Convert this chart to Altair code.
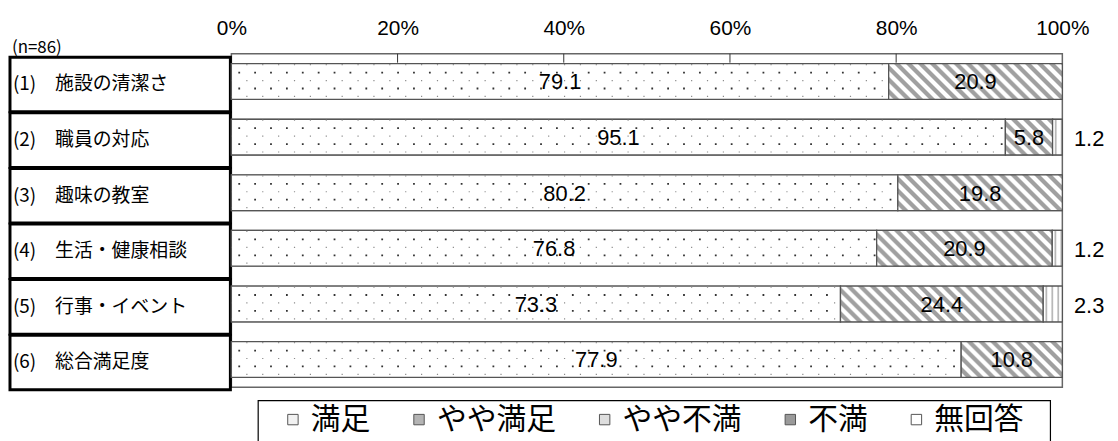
import altair as alt
import pandas as pd

# ---------------- data ----------------
items = ["(1)　施設の清潔さ", "(2)　職員の対応", "(3)　趣味の教室",
         "(4)　生活・健康相談", "(5)　行事・イベント", "(6)　総合満足度"]
cats = ["満足", "やや満足", "やや不満", "不満", "無回答"]
satisfied = [79.1, 95.1, 80.2, 76.8, 73.3, 77.9]
somewhat_satisfied = [20.9, 5.8, 19.8, 20.9, 24.4, 10.8]
somewhat_dissatisfied = [None, 1.2, None, 1.2, 2.3, None]
tick_values = [0, 0.2, 0.4, 0.6, 0.8, 1.0]
inner_ticks = [0.2, 0.4, 0.6, 0.8]
n_label = ["(n=86)"]

rows = []
for i, it in enumerate(items):
    for ci, series in enumerate([satisfied, somewhat_satisfied, somewhat_dissatisfied]):
        v = series[i]
        if v is not None:
            rows.append({"item": it, "cat": cats[ci], "order": ci, "v": v})
df = pd.DataFrame(rows)

# ---------------- styling ----------------
PW, PH, BAR = 837, 336, 36
HALF = PH / len(items) / 2  # offsets with yOffset are measured from band start
NUM_FONT = "Liberation Sans"
JP_FONT = "Noto Sans CJK JP"

yenc = alt.Y("item:N", sort=items,
             scale=alt.Scale(type="band", paddingInner=0, paddingOuter=0),
             axis=None)
xscale = alt.Scale(domain=[0, 1], nice=False, zero=True)
xaxis = alt.Axis(orient="top", values=tick_values, format="%", title=None,
                 ticks=False, domain=False, grid=False, labelFontSize=21,
                 labelFont=NUM_FONT, labelColor="black", labelPadding=15,
                 labelFlush=False)


def hatch_expr():
    P, L = 12.0, 300.0
    n = int(L / P)
    stops = []
    for k in range(n):
        stops += [(k / n, "#ffffff"), ((k + 0.35) / n, "#ffffff"),
                  ((k + 0.5) / n, "#a0a0a0"), ((k + 0.85) / n, "#a0a0a0")]
    stops.append((1.0, "#ffffff"))
    st = ",".join("{offset:%.5f,color:'%s'}" % s for s in stops)
    w = "((datum.v1-datum.v0)*%d)" % PW
    den = "(%s*%s+%d)" % (w, w, BAR * BAR)
    return ("{gradient:'linear',x1:0,y1:1,x2:%s*%g/%s,y2:1-%g/%s,stops:[%s]}"
            % (w, L, den, BAR * L, den, st))


def vstripe_expr():
    P, L = 6.0, 60.0
    n = int(L / P)
    stops = []
    for k in range(n):
        stops += [(k / n, "#ffffff"), ((k + 0.3) / n, "#ffffff"),
                  ((k + 0.45) / n, "#b8b8b8"), ((k + 0.6) / n, "#b8b8b8"),
                  ((k + 0.75) / n, "#ffffff")]
    stops.append((1.0, "#ffffff"))
    st = ",".join("{offset:%.5f,color:'%s'}" % s for s in stops)
    w = "((datum.v1-datum.v0)*%d)" % PW
    return "{gradient:'linear',x1:0,y1:0,x2:%g/%s,y2:0,stops:[%s]}" % (L, w, st)


fill_expr = ("datum.cat=='やや満足' ? %s : (datum.cat=='やや不満' ? %s : '#ffffff')"
             % (hatch_expr(), vstripe_expr()))

base = alt.Chart(df).transform_stack(
    stack="v", as_=["v0", "v1"], groupby=["item"], offset="normalize",
    sort=[alt.SortField("order", "ascending")]
).transform_calculate(mid="(datum.v0+datum.v1)/2")

legend_colors = ["#f2f2f2", "#b4b4b4", "#dedede", "#9a9a9a", "#ffffff"]

bars_legend = base.mark_bar(size=BAR, stroke="#666", strokeWidth=1.2).encode(
    x=alt.X("v0:Q", scale=xscale, axis=xaxis), x2="v1:Q", y=yenc,
    fill=alt.Fill("cat:N", scale=alt.Scale(domain=cats, range=legend_colors),
                  legend=alt.Legend(orient="none", legendX=47, legendY=353.5,
                                    direction="horizontal", title=None,
                                    labelFontSize=30, labelFont=JP_FONT,
                                    labelColor="black", symbolType="square",
                                    symbolSize=110, symbolStrokeColor="#555",
                                    symbolStrokeWidth=1, labelOffset=3,
                                    columnPadding=34, padding=0)),
)

bars_pattern = base.mark_bar(size=BAR, stroke="#555", strokeWidth=1.3,
                             fill={"expr": fill_expr}).encode(
    x=alt.X("v0:Q", scale=xscale, axis=xaxis), x2="v1:Q", y=yenc)

dot_layers = []
for off, dash_off, col, sw in [(-9, 9, "#333333", 1.8), (7, 9, "#333333", 1.8),
                               (-17, 1, "#8c8c8c", 1.2), (-1, 1, "#8c8c8c", 1.2),
                               (15, 1, "#8c8c8c", 1.2)]:
    dot_layers.append(
        base.transform_filter("datum.cat=='満足'").mark_rule(
            color=col, strokeWidth=sw, strokeDash=[sw, 16 - sw],
            strokeDashOffset=dash_off).encode(
            x=alt.X("v0:Q", scale=xscale, axis=xaxis), x2="v1:Q", y=yenc,
            yOffset=alt.value(HALF + off)))

value_labels = base.transform_filter(
    "datum.cat=='満足' || datum.cat=='やや満足'").mark_text(
    fontSize=22, font=NUM_FONT, color="black", baseline="middle", dy=1).encode(
    x=alt.X("mid:Q", scale=xscale, axis=xaxis), y=yenc,
    text=alt.Text("v:Q", format=".1f"))

right_labels = base.transform_filter("datum.cat=='やや不満'").mark_text(
    fontSize=22, font=NUM_FONT, color="black", baseline="middle", align="center",
    dy=2).encode(x=alt.value(864), y=yenc, text=alt.Text("v:Q", format=".1f"))

ticks_df = pd.DataFrame({"t": inner_ticks})
inner_tick_rules = alt.Chart(ticks_df).mark_rule(color="#333", strokeWidth=1).encode(
    x=alt.X("t:Q", scale=xscale, axis=xaxis), y=alt.value(0), y2=alt.value(9))

items_df = pd.DataFrame({"item": items})
table = alt.Chart(items_df).mark_bar(size=55, fill="white", stroke="black",
                                     strokeWidth=3).encode(
    y=yenc, x=alt.value(-223), x2=alt.value(-1), yOffset=alt.value(HALF + 3))
row_text = alt.Chart(items_df).mark_text(
    align="left", baseline="middle", fontSize=19, font=JP_FONT, color="black").encode(
    y=yenc, x=alt.value(-220), yOffset=alt.value(HALF + 3), text="item:N")

n_df = pd.DataFrame({"t": n_label})
n_text = alt.Chart(n_df).mark_text(align="left", baseline="middle", fontSize=17,
                                   font=JP_FONT, color="black").encode(
    x=alt.value(-221), y=alt.value(-6), text="t:N")

legend_box = alt.Chart(n_df).mark_rect(fill="white", stroke="black",
                                       strokeWidth=1.2).encode(
    x=alt.value(27), x2=alt.value(825), y=alt.value(349.5), y2=alt.value(420))

chart = alt.layer(
    table, row_text, n_text, legend_box, bars_legend, bars_pattern, *dot_layers,
    value_labels, right_labels, inner_tick_rules
).properties(
    width=PW, height=PH,
    autosize=alt.AutoSizeParams(type="none"),
    padding={"left": 225, "top": 44.5, "right": 48, "bottom": 52},
).configure_view(stroke="#666", strokeWidth=1.5)

chart.save("out.html", embed_options={"renderer": "svg", "actions": False})
